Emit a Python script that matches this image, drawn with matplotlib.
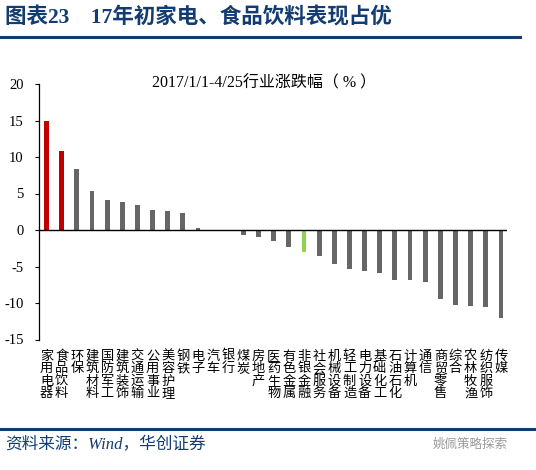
import matplotlib
matplotlib.use("Agg")
import matplotlib.pyplot as plt

# 行业及涨跌幅（%），2017/1/1-4/25
industries = ["家用电器", "食品饮料", "环保", "建筑材料", "国防军工", "建筑装饰",
              "交通运输", "公用事业", "美容护理", "钢铁", "电子", "汽车", "银行",
              "煤炭", "房地产", "医药生物", "有色金属", "非银金融", "社会服务",
              "机械设备", "轻工制造", "电力设备", "基础化工", "石油石化", "计算机",
              "通信", "商贸零售", "综合", "农林牧渔", "纺织服饰", "传媒"]
changes = [15.0, 10.8, 8.3, 5.3, 4.1, 3.9, 3.4, 2.7, 2.6, 2.3, 0.3, 0.0, -0.2,
           -0.7, -1.0, -1.5, -2.3, -3.0, -3.6, -4.6, -5.4, -5.6, -5.9, -6.8, -6.9,
           -7.1, -9.5, -10.3, -10.4, -10.6, -12.1]
highlight = {"家用电器": "#C00000", "食品饮料": "#C00000", "非银金融": "#92D050"}
yticks = [-15, -10, -5, 0, 5, 10, 15, 20]

serif_cjk = ["Liberation Serif", "Noto Sans CJK SC"]
navy = "#123C72"

fig = plt.figure(figsize=(5.36, 4.70), dpi=100)
ax = fig.add_axes([39 / 536, 1 - 339.5 / 470, (507 - 39) / 536, (339.5 - 84) / 470])

colors = [highlight.get(n, "#666666") for n in industries]
x = list(range(len(industries)))
ax.bar(x, changes, width=0.32, color=colors, zorder=2)
ax.axhline(0, color="black", lw=1.0, zorder=3)

ax.set_xlim(-0.5, 30.4)
ax.set_ylim(-15, 20)
ax.set_yticks(yticks)
ax.set_yticklabels([str(v) for v in yticks], family="Liberation Serif", fontsize=10.5)
ax.tick_params(axis="y", direction="out", length=3, width=0.8, pad=8)

# 行业名称竖排，顶部对齐
ax.set_xticks([])
for xi, name in zip(x, industries):
    ax.text(xi, -0.04, "\n".join(name), transform=ax.get_xaxis_transform(),
            family="Noto Sans CJK SC", fontsize=9.5, linespacing=0.95,
            ha="center", va="top")

for s in ["top", "right", "bottom"]:
    ax.spines[s].set_visible(False)
ax.spines["left"].set_linewidth(0.9)

fig.text(264 / 536, 1 - 83 / 470, "2017/1/1-4/25行业涨跌幅（ % ）", family=serif_cjk,
         fontsize=11.5, ha="center", va="center")

# 头部标题与分隔线
fig.text(5 / 536, 1 - 18 / 470, "图表23　17年初家电、食品饮料表现占优", family=serif_cjk,
         fontsize=15.5, fontweight="bold", color=navy, ha="left", va="center")
fig.add_artist(plt.Line2D([0, 520 / 536], [1 - 37 / 470] * 2, color=navy, lw=2.2))
fig.add_artist(plt.Line2D([0, 1], [1 - 429 / 470] * 2, color=navy, lw=2.2))

# 资料来源
fig.text(5 / 536, 1 - 444 / 470, "资料来源：Wind，华创证券", family=serif_cjk,
         style="italic", fontsize=12, color=navy, ha="left", va="center")
fig.text(508 / 536, 1 - 444 / 470, "姚佩策略探索", family="Noto Sans CJK SC",
         fontsize=9, color="#9a9a9a", ha="right", va="center")

fig.savefig("out.png", dpi=100)
